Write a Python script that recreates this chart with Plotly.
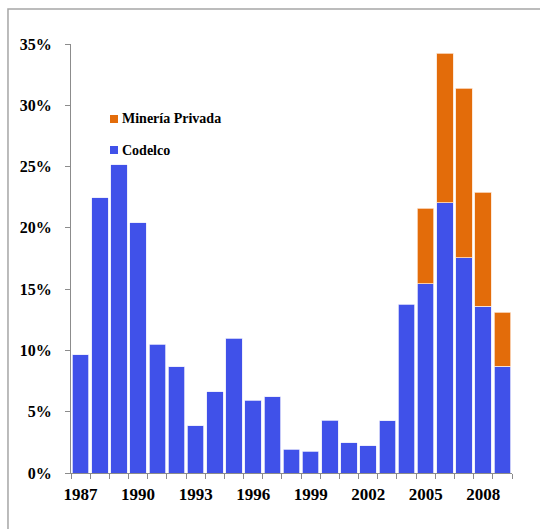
import plotly.graph_objects as go

# Annual share (%) by producer
years = list(range(1987, 2010))
codelco = [9.65, 22.47, 25.14, 20.4, 10.49, 8.67, 3.86, 6.63, 11.0, 5.92, 6.22,
           1.93, 1.79, 4.29, 2.45, 2.23, 4.27, 13.78, 15.43, 22.04, 17.55, 13.59, 8.70]
privada = [0, 0, 0, 0, 0, 0, 0, 0, 0, 0, 0,
           0, 0, 0, 0, 0, 0, 0, 6.17, 12.2, 13.84, 9.32, 4.42]
tick_years = [1987, 1990, 1993, 1996, 1999, 2002, 2005, 2008]
y_ticks = [0, 5, 10, 15, 20, 25, 30, 35]
series_names = ["Minería Privada", "Codelco"]

BLUE = "#4051E9"
ORANGE = "#E36C0A"
FONT = "Liberation Serif"

fig = go.Figure()
fig.add_trace(go.Bar(x=years, y=codelco, name=series_names[1],
                     marker=dict(color=BLUE, line=dict(color="#E8EAFB", width=0.8)),
                     width=0.86, showlegend=False))
# zero-height segments are skipped so no outline is drawn on top of the blue bars
fig.add_trace(go.Bar(x=years, y=[v if v else None for v in privada], name=series_names[0],
                     marker=dict(color=ORANGE, line=dict(color="#FBE3D0", width=0.8)),
                     width=0.86, showlegend=False))

# Key: small square swatch + bold label for each series
shapes = [dict(type="rect", xref="paper", yref="paper", x0=-0.1429, x1=1.3, y0=-0.3, y1=1.0816,
               line=dict(color="#A6A6A6", width=1.5), layer="below")]
annotations = []
key_rows = [(series_names[0], ORANGE, 0.8252), (series_names[1], BLUE, 0.7529)]
for name, color, yc in key_rows:
    shapes.append(dict(type="rect", xref="paper", yref="paper", x0=0.0884, x1=0.1066,
                       y0=yc - 0.0093, y1=yc + 0.0093, fillcolor=color, line=dict(width=0)))
    annotations.append(dict(text=name, xref="paper", yref="paper", x=0.1111, y=yc,
                            xanchor="left", yanchor="middle", showarrow=False,
                            font=dict(size=14, family=FONT, weight="bold", color="black")))

fig.update_layout(
    barmode="stack",
    width=540, height=529,
    margin=dict(l=71, r=28, t=44, b=56),
    paper_bgcolor="white", plot_bgcolor="white",
    font=dict(family=FONT, color="black"),
    showlegend=False,
    shapes=shapes,
    annotations=annotations,
)
fig.update_xaxes(
    range=[1986.5, 2009.5], tickvals=tick_years, ticktext=[str(y) for y in tick_years],
    ticks="", showline=True, linecolor="#8C8C8C", linewidth=1, showgrid=False, zeroline=False,
    tickfont=dict(size=17, family=FONT, weight="bold"), ticklabelstandoff=6,
    minor=dict(tickmode="linear", tick0=1986.5, dtick=1, ticks="outside", ticklen=5,
               tickcolor="#8C8C8C", showgrid=False),
)
fig.update_yaxes(
    range=[0, 35], tickvals=y_ticks, ticktext=[f"{v}%" for v in y_ticks],
    ticks="outside", ticklen=5, tickcolor="#8C8C8C", showline=True, linecolor="#8C8C8C",
    linewidth=1, showgrid=False, zeroline=False,
    tickfont=dict(size=16, family=FONT, weight="bold"), ticklabelstandoff=10,
)

fig.write_html("out.html")
